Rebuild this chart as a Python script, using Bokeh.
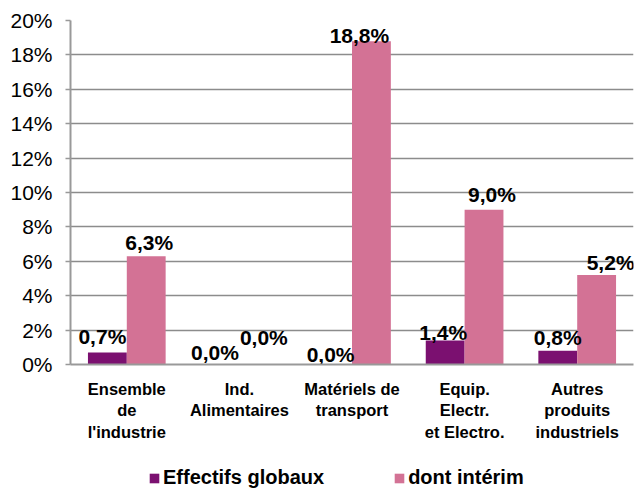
from bokeh.plotting import figure
from bokeh.layouts import column
from bokeh.models import (ColumnDataSource, FactorRange, Legend, LegendItem, FixedTicker,
                          CustomJSTickFormatter)
from bokeh.transform import dodge
from bokeh.embed import file_html
from bokeh.resources import INLINE
from bokeh.core.properties import value

categories = ["Ensemble\nde\nl'industrie", "Ind.\nAlimentaires", "Matériels de\ntransport",
              "Equip.\nElectr.\net Electro.", "Autres\nproduits\nindustriels"]
effectifs_globaux = [0.7, 0.0, 0.0, 1.4, 0.8]
dont_interim = [6.3, 0.0, 18.8, 9.0, 5.2]
y_ticks = [0, 2, 4, 6, 8, 10, 12, 14, 16, 18, 20]

# label nudges in screen pixels (style only)
g_dx = [-5, -5, -2, -2, 0]
g_dy = [10, 6, 4, 2, 7]
i_dx = [3, 5, -12, 8, 14]
i_dy = [8, 21, 0, 9, 7]
BASE_SHIFT = 6

PURPLE = "#7B1070"
PINK = "#D37295"
FONT = "Liberation Sans"
W = 0.345

def fmt(v):
    return ("%.1f%%" % v).replace(".", ",")

src = ColumnDataSource(dict(
    cat=categories,
    g=effectifs_globaux,
    i=dont_interim,
    gl=[fmt(v) for v in effectifs_globaux],
    il=[fmt(v) for v in dont_interim],
    gdx=g_dx, gdy=[-(d + BASE_SHIFT) for d in g_dy],
    idx=i_dx, idy=[-(d + BASE_SHIFT) for d in i_dy],
))

p = figure(x_range=FactorRange(*categories, range_padding=0), y_range=(0, 20),
           width=638, height=458, output_backend="svg", toolbar_location=None,
           min_border_left=70, min_border_right=5, min_border_top=20,
           min_border_bottom=94, outline_line_color=None)

r1 = p.vbar(x=dodge("cat", -W / 2, range=p.x_range), top="g", width=W, source=src,
            fill_color=PURPLE, line_color=None)
r2 = p.vbar(x=dodge("cat", W / 2, range=p.x_range), top="i", width=W, source=src,
            fill_color=PINK, line_color=None)

p.text(x=dodge("cat", -W / 2, range=p.x_range), y="g", text="gl", source=src,
       x_offset="gdx", y_offset="gdy",
       text_font=value(FONT), text_font_style="bold", text_font_size="21px",
       text_align="center", text_baseline="alphabetic", text_color="black")
p.text(x=dodge("cat", W / 2, range=p.x_range), y="i", text="il", source=src,
       x_offset="idx", y_offset="idy",
       text_font=value(FONT), text_font_style="bold", text_font_size="21px",
       text_align="center", text_baseline="alphabetic", text_color="black")

p.yaxis.ticker = FixedTicker(ticks=y_ticks)
p.yaxis.formatter = CustomJSTickFormatter(code="return tick.toFixed(0) + '%';")
p.yaxis.major_label_text_font = FONT
p.yaxis.major_label_text_font_size = "21px"
p.yaxis.major_label_text_color = "black"
p.yaxis.axis_line_color = "#999999"
p.yaxis.axis_line_width = 2
p.yaxis.major_tick_line_color = "#999999"
p.yaxis.major_tick_line_width = 1.5
p.yaxis.major_tick_in = 0
p.yaxis.major_tick_out = 5
p.yaxis.minor_tick_line_color = None
p.yaxis.major_label_standoff = 13

p.xaxis.major_label_text_font = FONT
p.xaxis.major_label_text_font_style = "bold"
p.xaxis.major_label_text_font_size = "16.5px"
p.xaxis.major_label_text_color = "black"
p.xaxis.axis_line_color = "#999999"
p.xaxis.axis_line_width = 2
p.xaxis.major_tick_line_color = None
p.xaxis.minor_tick_line_color = None
p.xaxis.major_label_standoff = 9

p.xgrid.grid_line_color = None
p.ygrid.grid_line_color = "#8c8c8c"
p.ygrid.grid_line_width = 1.5
p.ygrid.ticker = FixedTicker(ticks=y_ticks)

# legend in its own strip under the chart
lf = figure(width=638, height=31, output_backend="svg", toolbar_location=None,
            x_range=(0, 1), y_range=(0, 1), min_border=0, outline_line_color=None,
            x_axis_type=None, y_axis_type=None)
lf.grid.visible = False
d1 = lf.vbar(x=[0.5], top=[0], width=0.1, fill_color=PURPLE, line_color=None)
d2 = lf.vbar(x=[0.5], top=[0], width=0.1, fill_color=PINK, line_color=None)
legend = Legend(items=[LegendItem(label="Effectifs globaux", renderers=[d1]),
                       LegendItem(label="dont intérim", renderers=[d2])],
                orientation="horizontal", location=(78, 0))
legend.label_text_font = FONT
legend.label_text_font_style = "bold"
legend.label_text_font_size = "20px"
legend.label_text_color = "black"
legend.glyph_width = 12
legend.glyph_height = 12
legend.label_standoff = 3
legend.spacing = 69
legend.border_line_color = None
legend.background_fill_alpha = 0
legend.padding = 0
legend.margin = 0
lf.add_layout(legend, "center")

layout = column(p, lf, spacing=0)
open("out.html", "w").write(file_html(layout, INLINE))
